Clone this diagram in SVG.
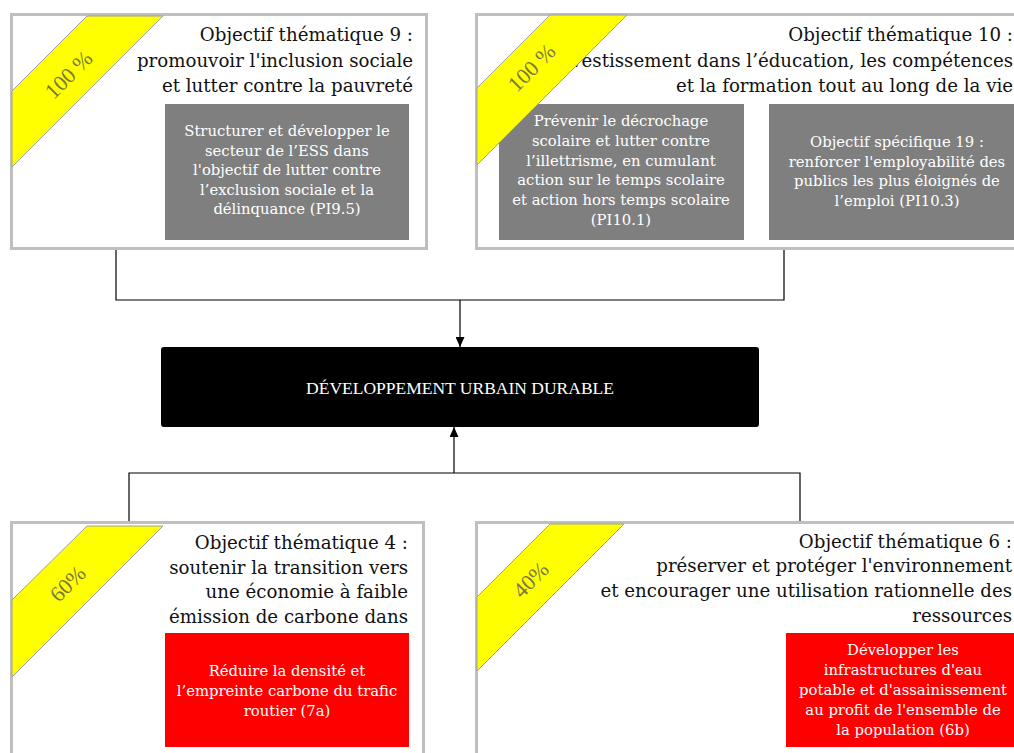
<svg xmlns="http://www.w3.org/2000/svg" width="1014" height="753" viewBox="0 0 1014 753">
<defs>
<marker id="arr" markerUnits="userSpaceOnUse" markerWidth="10" markerHeight="9" refX="10" refY="4.5" orient="auto">
<path d="M0,0 L10,4.5 L0,9 z" fill="#000"/>
</marker>
<style>
.frame{fill:#fff;stroke:#bfbfbf;stroke-width:3}
.title{font-family:"DejaVu Serif","Liberation Serif",serif;font-size:18.2px;fill:#111;text-anchor:end}
.inner{font-family:"DejaVu Serif","Liberation Serif",serif;font-size:14.8px;fill:#fff;text-anchor:middle}
.grey{fill:#7f7f7f}
.red{fill:#ff0000}
.band{fill:#ffff00;stroke:#a0a0a0;stroke-width:1}
.pct{font-family:"Liberation Serif","DejaVu Serif",serif;font-size:22px;fill:#77774a;text-anchor:middle}
.conn{fill:none;stroke:#000;stroke-width:1.2}
</style>
</defs>
<rect width="1014" height="753" fill="#fff"/>

<g id="ot9">
<rect class="frame" x="11.5" y="14.5" width="415" height="234"/>
<text class="title" x="413" y="41">Objectif thématique 9 :</text>
<text class="title" x="413" y="67">promouvoir l'inclusion sociale</text>
<text class="title" x="413" y="92">et lutter contre la pauvreté</text>
<rect class="grey" x="165" y="104" width="244" height="136"/>
<text class="inner" x="287" y="136">Structurer et développer le</text>
<text class="inner" x="287" y="155.5">secteur de l’ESS dans</text>
<text class="inner" x="287" y="175">l'objectif de lutter contre</text>
<text class="inner" x="287" y="194.5">l’exclusion sociale et la</text>
<text class="inner" x="287" y="214">délinquance (PI9.5)</text>
<polygon class="band" points="87,16 163,16 12,167 12,91"/>
<text class="pct" transform="translate(69,75) rotate(-45)" y="7">100 %</text>
</g>

<g id="ot10">
<rect class="frame" x="476.5" y="14.5" width="560" height="234"/>
<text class="title" x="1013" y="41">Objectif thématique 10 :</text>
<text class="title" x="1013" y="67">vestissement dans l’éducation, les compétences</text>
<text class="title" x="1013" y="92">et la formation tout au long de la vie</text>
<rect class="grey" x="499" y="104" width="245" height="136"/>
<text class="inner" x="621" y="126">Prévenir le décrochage</text>
<text class="inner" x="621" y="146">scolaire et lutter contre</text>
<text class="inner" x="621" y="165.5">l’illettrisme, en cumulant</text>
<text class="inner" x="621" y="185">action sur le temps scolaire</text>
<text class="inner" x="621" y="205">et action hors temps scolaire</text>
<text class="inner" x="621" y="225">(PI10.1)</text>
<rect class="grey" x="769" y="104" width="256" height="136"/>
<text class="inner" x="897" y="147">Objectif spécifique 19 :</text>
<text class="inner" x="897" y="166.5">renforcer l'employabilité des</text>
<text class="inner" x="897" y="186">publics les plus éloignés de</text>
<text class="inner" x="897" y="205.5">l’emploi (PI10.3)</text>
<polygon class="band" points="550,15 627,15 477,165 477,88"/>
<text class="pct" transform="translate(532,68) rotate(-45)" y="7">100 %</text>
</g>

<g id="dud">
<rect x="161" y="347" width="598" height="80" rx="3" fill="#000"/>
<text x="460" y="394" font-family="'Liberation Serif','DejaVu Serif',serif" font-size="17.5" fill="#fff" text-anchor="middle">DÉVELOPPEMENT URBAIN DURABLE</text>
</g>

<g id="ot4">
<rect class="frame" x="11.5" y="522.5" width="412" height="250"/>
<text class="title" x="408" y="549">Objectif thématique 4 :</text>
<text class="title" x="408" y="574">soutenir la transition vers</text>
<text class="title" x="408" y="598">une économie à faible</text>
<text class="title" x="408" y="623">émission de  carbone dans</text>
<rect class="red" x="165" y="633" width="244" height="114"/>
<text class="inner" x="287" y="676">Réduire la densité et</text>
<text class="inner" x="287" y="696">l’empreinte carbone du trafic</text>
<text class="inner" x="287" y="716">routier (7a)</text>
<polygon class="band" points="87,526 163,526 12,677 12,600"/>
<text class="pct" transform="translate(68,584) rotate(-45)" y="7">60%</text>
</g>

<g id="ot6">
<rect class="frame" x="476.5" y="522.5" width="560" height="250"/>
<text class="title" x="1012" y="548">Objectif thématique 6 :</text>
<text class="title" x="1012" y="572">préserver et protéger l'environnement</text>
<text class="title" x="1012" y="597">et encourager une utilisation rationnelle des</text>
<text class="title" x="1012" y="622">ressources</text>
<rect class="red" x="786" y="633" width="234" height="114"/>
<text class="inner" x="903" y="655">Développer les</text>
<text class="inner" x="903" y="675">infrastructures d'eau</text>
<text class="inner" x="903" y="695">potable et d'assainissement</text>
<text class="inner" x="903" y="715">au profit de l'ensemble de</text>
<text class="inner" x="903" y="735">la population (6b)</text>
<polygon class="band" points="550,524 624,524 477,671 477,597"/>
<text class="pct" transform="translate(531,580) rotate(-45)" y="7">40%</text>
</g>

<g id="connectors">
<path class="conn" d="M116,250 V300 H784 V250"/>
<path class="conn" d="M460,300 V347" marker-end="url(#arr)"/>
<path class="conn" d="M129,521 V473 H800 V521"/>
<path class="conn" d="M454,473 V427" marker-end="url(#arr)"/>
</g>
</svg>
